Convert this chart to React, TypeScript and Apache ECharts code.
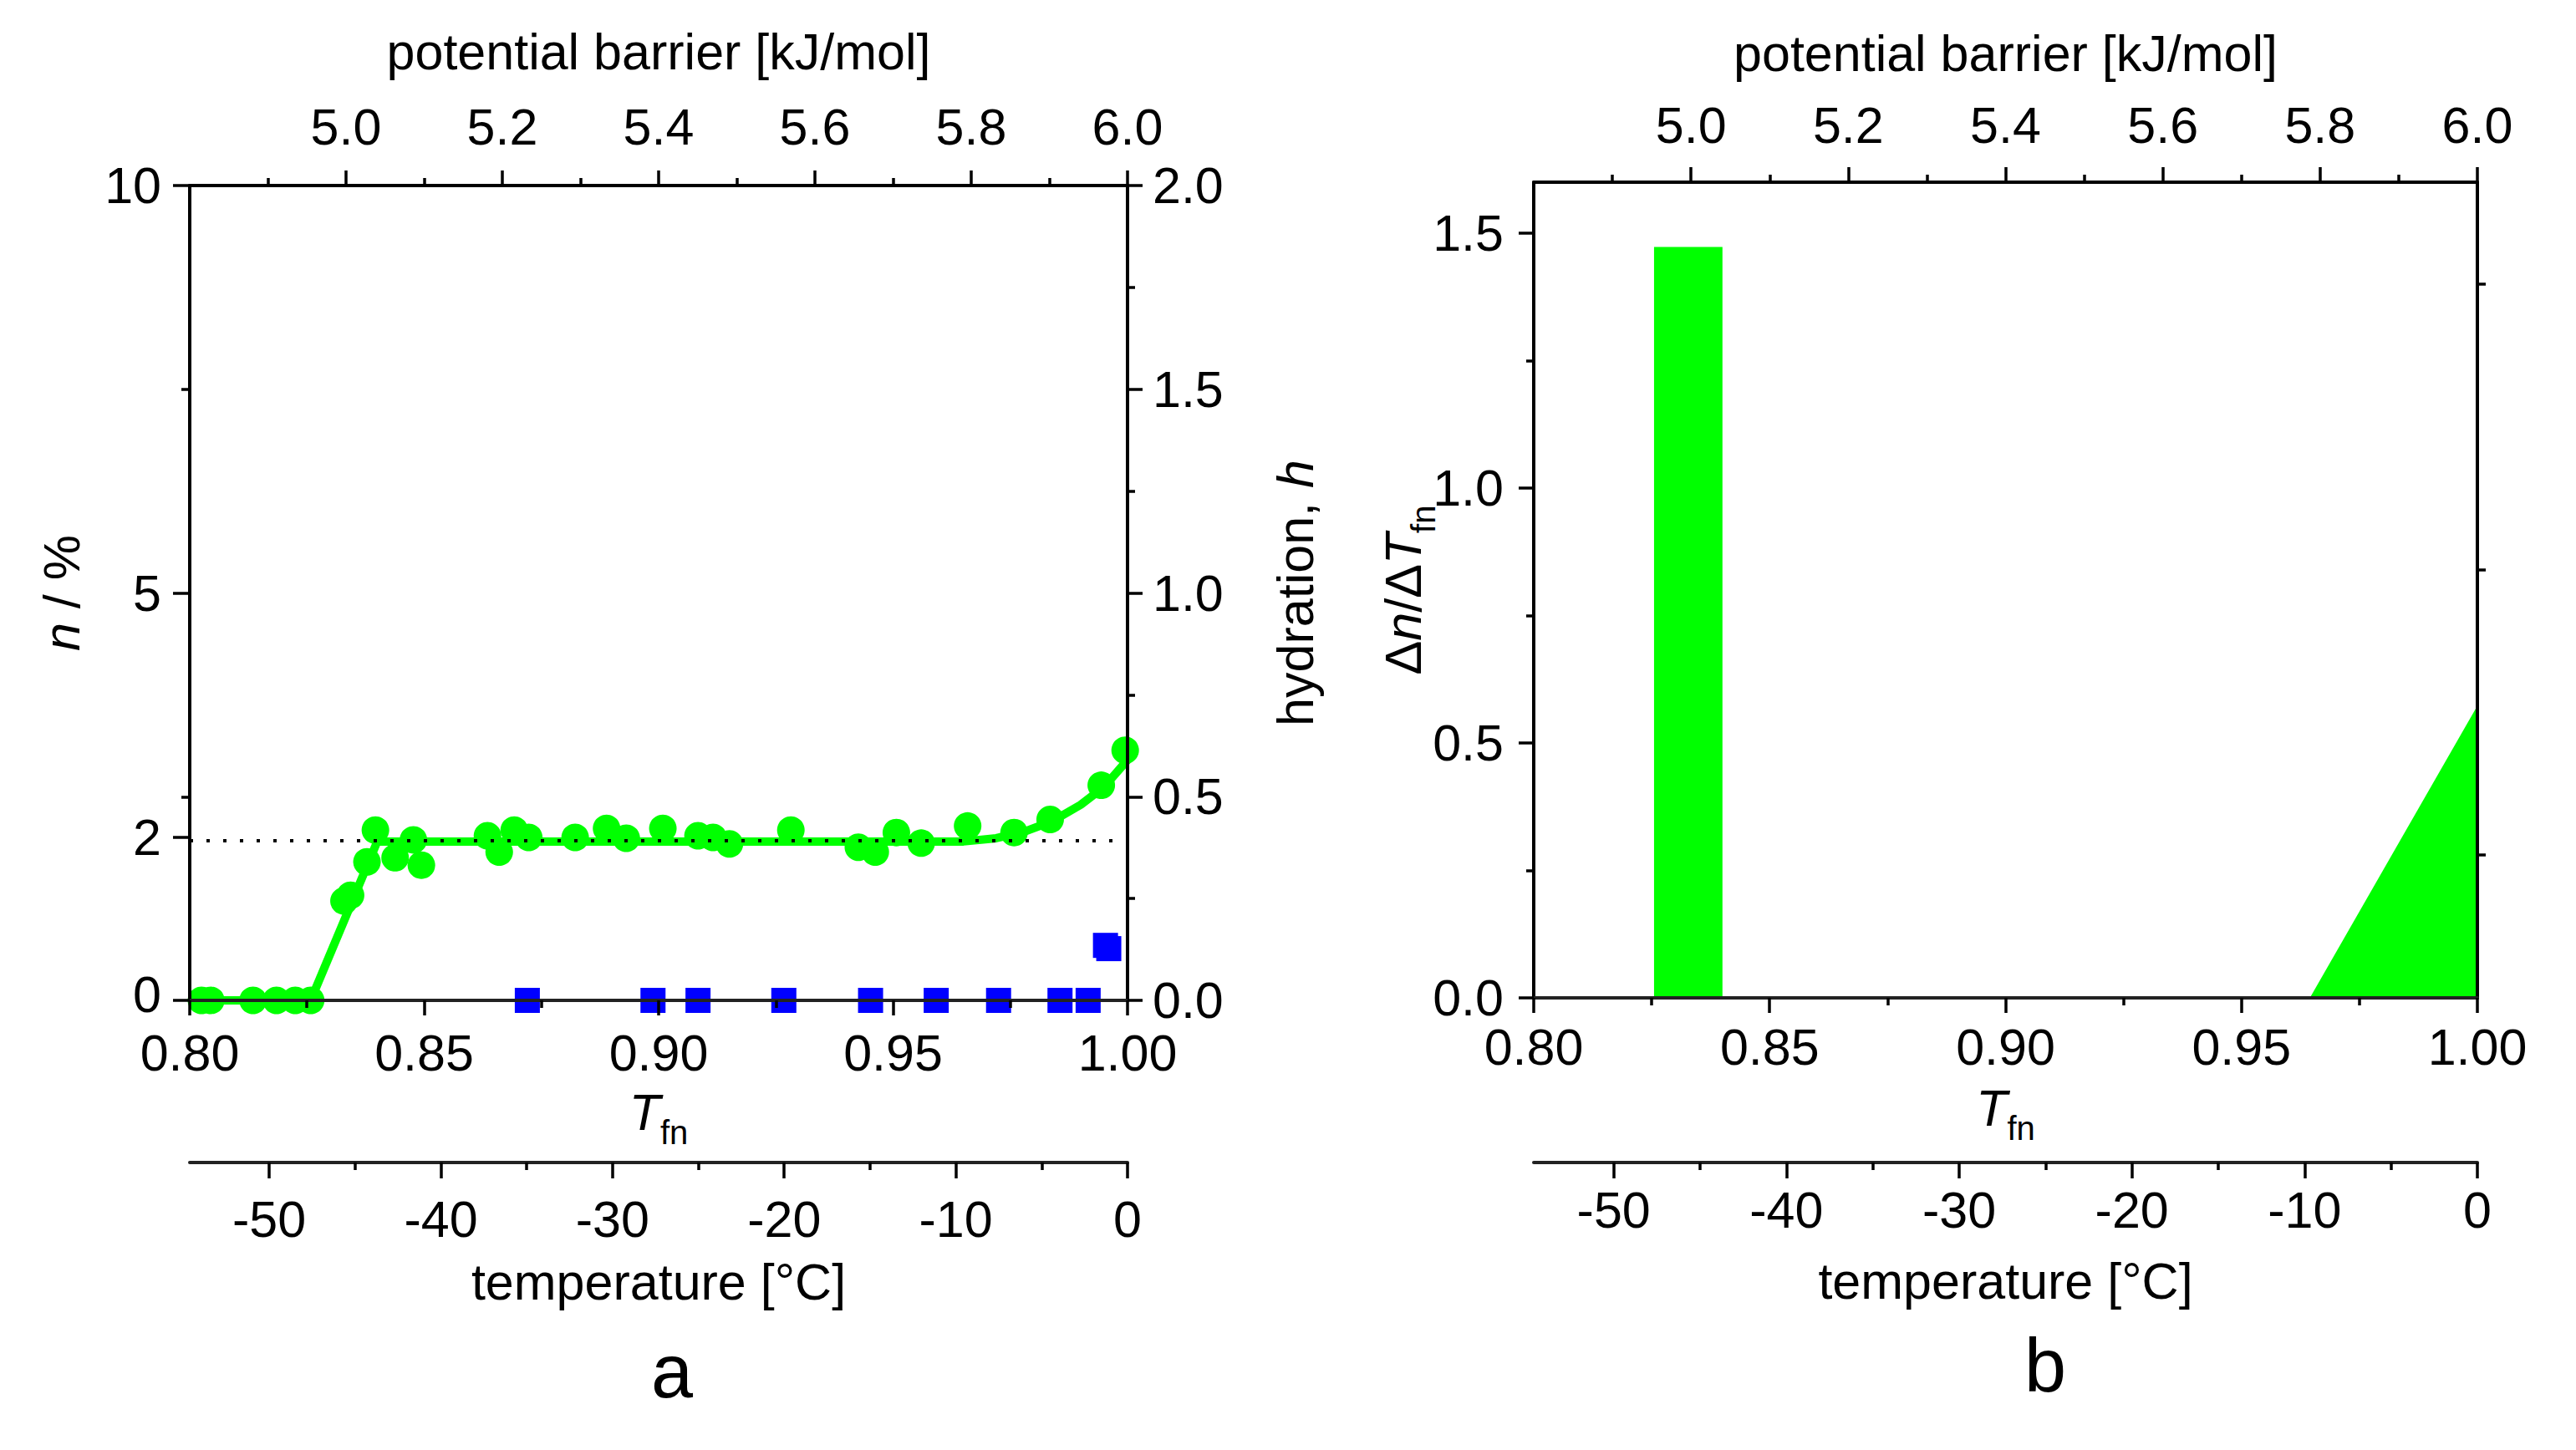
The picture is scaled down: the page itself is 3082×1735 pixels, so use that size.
import React, { useEffect, useRef } from "react";
import * as echarts from "echarts";

const FONT = "'Liberation Sans', Arial, Helvetica, sans-serif";
const GREEN = "#00ff00";
const BLUE = "#0000ff";

// ---- panel a data ----
const GREEN_X = [0.8025, 0.8045, 0.8135, 0.8185, 0.8225, 0.8258, 0.8329, 0.8343, 0.8378, 0.8396, 0.8438, 0.8477, 0.8494, 0.8635, 0.866, 0.8692, 0.8723, 0.8822, 0.8889, 0.8931, 0.9009, 0.9084, 0.9116, 0.9151, 0.9282, 0.9426, 0.9462, 0.9507, 0.956, 0.9659, 0.9758, 0.9835, 0.9944, 0.9995];
const GREEN_N = [0, 0, 0, 0, 0, 0, 1.22, 1.29, 1.7, 2.09, 1.75, 1.97, 1.66, 2.02, 1.82, 2.09, 2.0, 2.0, 2.11, 1.99, 2.11, 2.02, 2.0, 1.92, 2.09, 1.88, 1.82, 2.06, 1.93, 2.14, 2.06, 2.22, 2.64, 3.07];
const FIT_X = [0.8, 0.8258, 0.84, 0.965, 0.972, 0.978, 0.984, 0.99, 0.995, 1.0];
const FIT_N = [0, 0, 1.95, 1.95, 1.99, 2.07, 2.2, 2.4, 2.62, 2.95];
const DOTTED_X = [0.8, 1.0];
const DOTTED_N = [1.96, 1.96];
const BLUE_X = [0.872, 0.8988, 0.9084, 0.9267, 0.9452, 0.9592, 0.9725, 0.9856, 0.9916, 0.9953, 0.996];
const BLUE_H = [0, 0, 0, 0, 0, 0, 0, 0, 0, 0.135, 0.127];

// ---- panel b data ----
const DERIV_X = [0.8255, 0.8255, 0.84, 0.84, 0.9645, 1.0];
const DERIV_Y = [0, 1.473, 1.473, 0, 0, 0.573];

// ---- ticks ----
const N_TICKS = [0, 2, 5, 10];
const N_MINOR = [2.5, 7.5];
const BARRIER_TICKS = [5.0, 5.2, 5.4, 5.6, 5.8, 6.0];
const BARRIER_MINOR = [4.9, 5.1, 5.3, 5.5, 5.7, 5.9];
const TEMP_TICKS = [-50, -40, -30, -20, -10, 0];
const TEMP_MINOR = [-45, -35, -25, -15, -5];
const DN_TICKS = [0, 0.5, 1.0, 1.5];
const DN_MINOR = [0.25, 0.75, 1.25];
const B_RIGHT_TICKS = [0.28, 0.84, 1.4];

const TFN_MIN = 0.8;
const TFN_MAX = 1.0;
const BARRIER_MIN = 4.8;
const BARRIER_MAX = 6.0;
const TEMP_MIN = -54.63;
const TEMP_MAX = 0;

const zip = (xs: number[], ys: number[]) => xs.map((x, i) => [x, ys[i]]);

const FS = 61;
const txt = { color: "#000", fontSize: FS, fontFamily: FONT };
const lab = { ...txt, lineHeight: 50 };
const axLine = (show = true, color = "#000") => ({ show, onZero: false, lineStyle: { color, width: 4 } });
const tick = (length: number, extra: any = {}) => ({
  show: true,
  inside: false,
  length,
  lineStyle: { color: "#000", width: 3.5 },
  ...extra,
});
const minor = { show: true, splitNumber: 2, length: 9, lineStyle: { color: "#000", width: 3.5 } };
const noSplit = { splitLine: { show: false }, minorSplitLine: { show: false } };
const rich = {
  i: { fontStyle: "italic", fontSize: FS, fontFamily: FONT, color: "#000" },
  u: { fontStyle: "normal", fontSize: FS, fontFamily: FONT, color: "#000" },
  s: { fontSize: 40, fontFamily: FONT, color: "#000", padding: [48, 0, 0, 0] },
};
const nameStyle = { ...txt, rich };

function tfnAxis(grid: number, margin: number, nameGap: number) {
  return {
    type: "value",
    gridIndex: grid,
    position: "bottom",
    min: TFN_MIN,
    max: TFN_MAX,
    interval: 0.05,
    axisLine: axLine(true, "#222"),
    axisTick: tick(18),
    minorTick: minor,
    axisLabel: { ...lab, margin, formatter: (v: number) => v.toFixed(2) },
    name: "{i|T}{s|fn}",
    nameLocation: "middle",
    nameGap,
    nameMoveOverlap: false,
    nameTextStyle: nameStyle,
    z: 10,
    ...noSplit,
  };
}

function barrierAxes(grid: number, margin: number, nameGap: number) {
  return [
    {
      type: "value",
      gridIndex: grid,
      position: "top",
      min: BARRIER_MIN,
      max: BARRIER_MAX,
      axisLine: axLine(),
      axisTick: tick(18, { customValues: BARRIER_TICKS }),
      axisLabel: { ...lab, margin, customValues: BARRIER_TICKS, formatter: (v: number) => v.toFixed(1) },
      name: "potential barrier [kJ/mol]",
      nameLocation: "middle",
      nameGap,
      nameMoveOverlap: false,
      nameTextStyle: txt,
      z: 10,
      ...noSplit,
    },
    {
      type: "value",
      gridIndex: grid,
      position: "top",
      min: BARRIER_MIN,
      max: BARRIER_MAX,
      axisLine: { show: false, onZero: false },
      axisTick: tick(9, { customValues: BARRIER_MINOR }),
      axisLabel: { show: false },
      z: 10,
      ...noSplit,
    },
  ];
}

function tempAxes(grid: number, offset: number, margin: number, nameGap: number) {
  return [
    {
      type: "value",
      gridIndex: grid,
      position: "bottom",
      offset,
      min: TEMP_MIN,
      max: TEMP_MAX,
      axisLine: axLine(true, "#222"),
      axisTick: tick(19, { customValues: TEMP_TICKS }),
      axisLabel: { ...lab, margin, customValues: TEMP_TICKS, formatter: (v: number) => String(Math.round(v)) },
      name: "temperature [°C]",
      nameLocation: "middle",
      nameGap,
      nameMoveOverlap: false,
      nameTextStyle: txt,
      z: 10,
      ...noSplit,
    },
    {
      type: "value",
      gridIndex: grid,
      position: "bottom",
      offset,
      min: TEMP_MIN,
      max: TEMP_MAX,
      axisLine: { show: false, onZero: false },
      axisTick: tick(9, { customValues: TEMP_MINOR }),
      axisLabel: { show: false },
      z: 10,
      ...noSplit,
    },
  ];
}

const option: any = {
  animation: false,
  backgroundColor: "#fff",
  textStyle: { fontFamily: FONT },
  grid: [
    { left: 227, top: 222, width: 1122, height: 975, containLabel: false, outerBoundsMode: "none" },
    { left: 1835, top: 218, width: 1129, height: 976, containLabel: false, outerBoundsMode: "none" },
  ],
  xAxis: [
    tfnAxis(0, 38, 90), // 0
    ...barrierAxes(0, 45, 130), // 1,2
    ...tempAxes(0, 194, 43, 112), // 3,4
    tfnAxis(1, 34, 88), // 5
    ...barrierAxes(1, 43, 124), // 6,7
    ...tempAxes(1, 197, 32, 111), // 8,9
  ],
  yAxis: [
    {
      // 0: n / %
      type: "value",
      gridIndex: 0,
      position: "left",
      min: 0,
      max: 10,
      axisLine: axLine(),
      axisTick: tick(20, { customValues: N_TICKS }),
      axisLabel: {
        ...lab,
        margin: 34,
        customValues: N_TICKS,
        formatter: (v: number) => (v === 0 ? "{z|0}" : String(v)),
        rich: { z: { fontSize: FS, fontFamily: FONT, color: "#000", padding: [0, 0, 14, 0] } },
      },
      name: "{i|n} / %",
      nameLocation: "middle",
      nameGap: 123,
      nameMoveOverlap: false,
      nameTextStyle: nameStyle,
      z: 10,
      ...noSplit,
    },
    {
      // 1: hydration
      type: "value",
      gridIndex: 0,
      position: "right",
      min: 0,
      max: 2,
      interval: 0.5,
      axisLine: axLine(),
      axisTick: tick(18),
      minorTick: minor,
      axisLabel: { ...lab, margin: 30, formatter: (v: number) => v.toFixed(1) },
      name: "hydration, {i|h}",
      nameLocation: "middle",
      nameRotate: 90,
      nameGap: 170,
      nameMoveOverlap: false,
      nameTextStyle: nameStyle,
      z: 10,
      ...noSplit,
    },
    {
      // 2: n minor ticks
      type: "value",
      gridIndex: 0,
      position: "left",
      min: 0,
      max: 10,
      axisLine: { show: false, onZero: false },
      axisTick: tick(10, { customValues: N_MINOR }),
      axisLabel: { show: false },
      z: 10,
      ...noSplit,
    },
    {
      // 3: dn/dTfn
      type: "value",
      gridIndex: 1,
      position: "left",
      min: 0,
      max: 1.6,
      axisLine: axLine(),
      axisTick: tick(18, { customValues: DN_TICKS }),
      axisLabel: { ...lab, margin: 36, customValues: DN_TICKS, formatter: (v: number) => v.toFixed(1) },
      name: "{u|Δ}{i|n}{u|/Δ}{i|T}{s|fn}",
      nameLocation: "middle",
      nameGap: 112,
      nameMoveOverlap: false,
      nameTextStyle: nameStyle,
      z: 10,
      ...noSplit,
    },
    {
      // 4: dn minor
      type: "value",
      gridIndex: 1,
      position: "left",
      min: 0,
      max: 1.6,
      axisLine: { show: false, onZero: false },
      axisTick: tick(9, { customValues: DN_MINOR }),
      axisLabel: { show: false },
      z: 10,
      ...noSplit,
    },
    {
      // 5: right frame of b
      type: "value",
      gridIndex: 1,
      position: "right",
      min: 0,
      max: 1.6,
      axisLine: axLine(),
      axisTick: tick(10, { customValues: B_RIGHT_TICKS }),
      axisLabel: { show: false },
      z: 10,
      ...noSplit,
    },
  ],
  series: [
    {
      type: "line",
      name: "fit",
      xAxisIndex: 0,
      yAxisIndex: 0,
      data: zip(FIT_X, FIT_N),
      symbol: "none",
      lineStyle: { color: GREEN, width: 10, opacity: 1 },
      z: 2,
      silent: true,
    },
    {
      type: "scatter",
      name: "n",
      xAxisIndex: 0,
      yAxisIndex: 0,
      data: zip(GREEN_X, GREEN_N),
      symbol: "circle",
      symbolSize: 33,
      itemStyle: { color: GREEN, opacity: 1 },
      z: 2,
      silent: true,
    },
    {
      type: "line",
      name: "level",
      xAxisIndex: 0,
      yAxisIndex: 0,
      data: zip(DOTTED_X, DOTTED_N),
      symbol: "none",
      lineStyle: { color: "#000", width: 4, type: [4, 16] },
      z: 3,
      silent: true,
    },
    {
      type: "scatter",
      name: "h",
      xAxisIndex: 0,
      yAxisIndex: 1,
      data: zip(BLUE_X, BLUE_H),
      symbol: "rect",
      symbolSize: 30,
      itemStyle: { color: BLUE, opacity: 1 },
      z: 3,
      silent: true,
    },
    {
      type: "line",
      name: "deriv",
      xAxisIndex: 5,
      yAxisIndex: 3,
      data: zip(DERIV_X, DERIV_Y),
      symbol: "none",
      lineStyle: { width: 0, color: GREEN },
      areaStyle: { color: GREEN, opacity: 1 },
      z: 2,
      silent: true,
    },
  ],
  graphic: [
    {
      type: "text",
      x: 804,
      y: 1641,
      style: { text: "a", fontSize: 90, fontFamily: FONT, fill: "#000", align: "center", verticalAlign: "middle" },
    },
    {
      type: "text",
      x: 2447,
      y: 1634,
      style: { text: "b", fontSize: 90, fontFamily: FONT, fill: "#000", align: "center", verticalAlign: "middle" },
    },
  ],
};

export default function App() {
  const ref = useRef<HTMLDivElement>(null);
  useEffect(() => {
    if (!ref.current) return;
    const chart = echarts.init(ref.current, null, { renderer: "svg" });
    chart.setOption(option);
    return () => chart.dispose();
  }, []);
  return (
    <div
      ref={ref}
      style={{ position: "absolute", left: 0, top: 0, width: 3082, height: 1735, background: "#fff" }}
    />
  );
}
